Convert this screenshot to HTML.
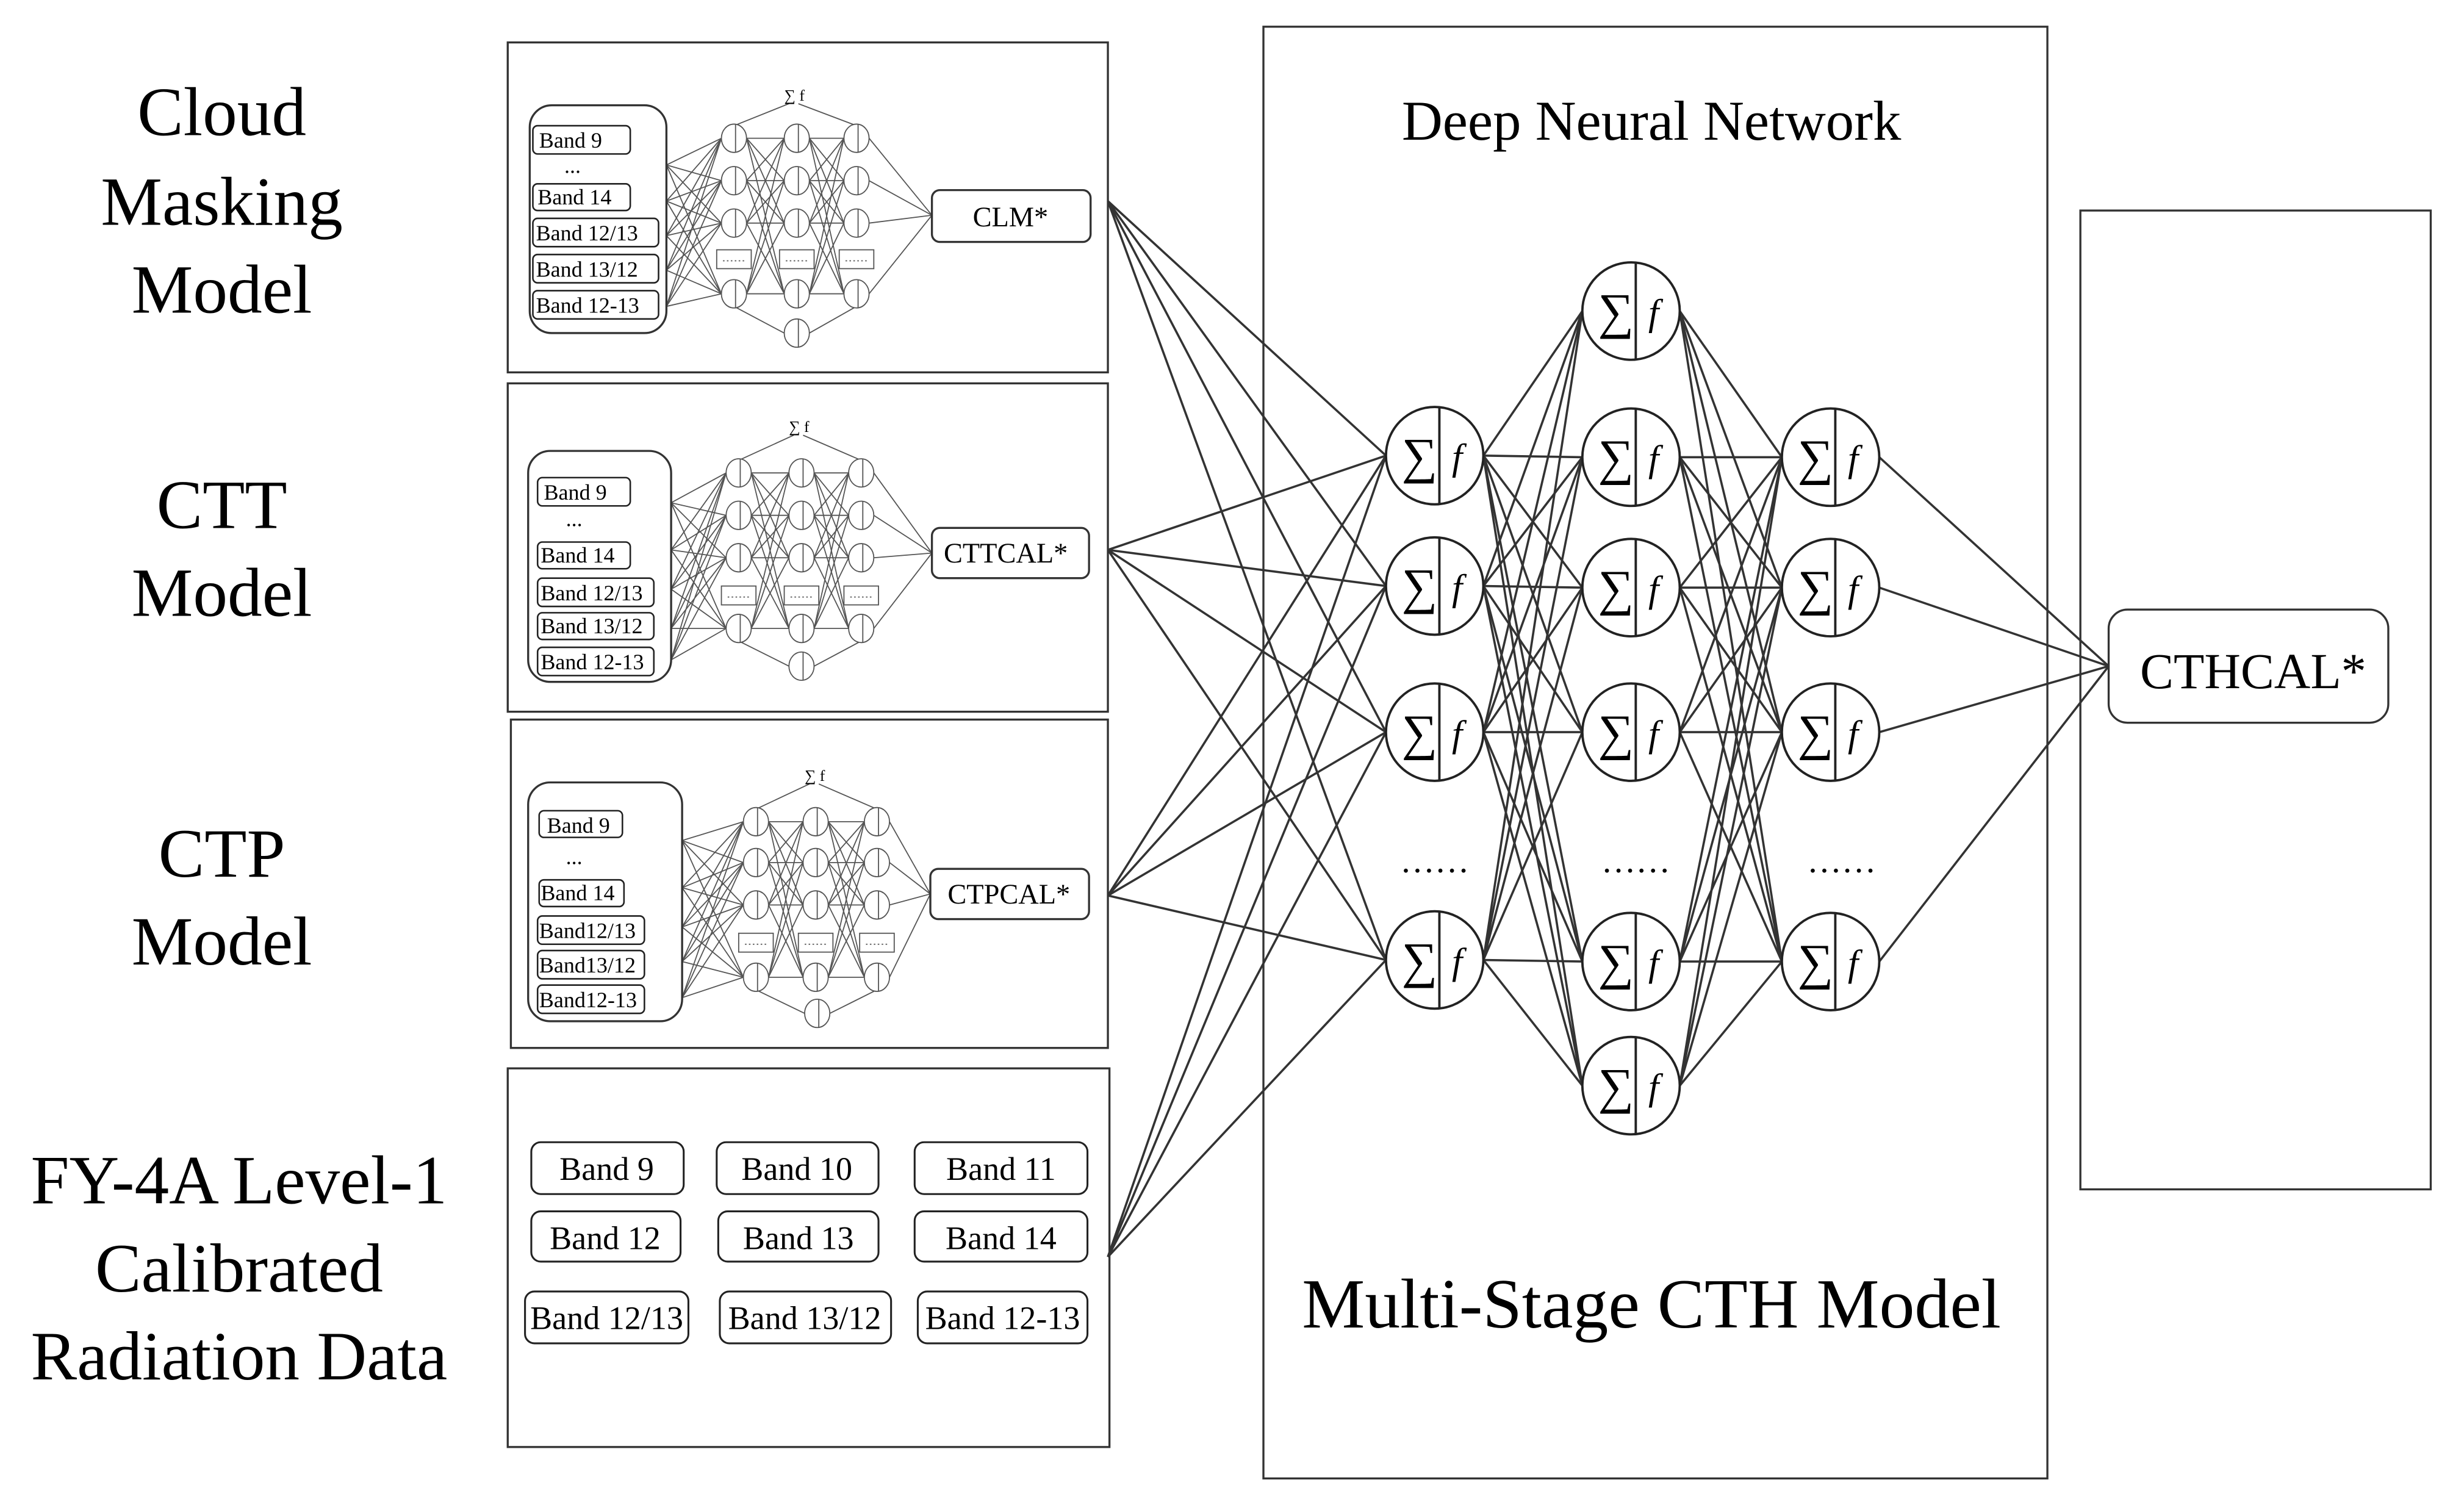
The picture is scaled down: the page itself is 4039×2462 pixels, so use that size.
<!DOCTYPE html>
<html><head><meta charset="utf-8"><style>
html,body{margin:0;padding:0;background:#fff}
svg{display:block}
svg text{font-family:"Liberation Serif","Times New Roman",serif;fill:#000}
</style></head><body>
<svg id="s" width="4039" height="2462" viewBox="0 0 1568 956" xmlns="http://www.w3.org/2000/svg" font-family="Liberation Serif, serif">
<rect width="1568" height="956" fill="#fff"/>
<g id="lines" stroke="#333" stroke-width="1.4" fill="none"></g>
<g id="small" stroke="#555" stroke-width="0.7" fill="none"></g>
<g fill="none" stroke="#333" stroke-width="1.3">
<rect x="323" y="27" width="382" height="210"/>
<rect x="323" y="244" width="382" height="209"/>
<rect x="325" y="458" width="380" height="209"/>
<rect x="323" y="680" width="383" height="241"/>
<rect x="804" y="17" width="499" height="924"/>
<rect x="1324" y="134" width="223" height="623"/>
<rect x="1342" y="388" width="178" height="72" rx="12" fill="#fff"/>
<rect x="337" y="67" width="87" height="145" rx="14"/>
<rect x="336" y="287" width="91" height="147" rx="14"/>
<rect x="336" y="498" width="98" height="152" rx="14"/>
<rect x="593" y="121" width="101" height="33" rx="5" fill="#fff"/>
<rect x="593" y="336" width="100" height="32" rx="5" fill="#fff"/>
<rect x="592" y="553" width="101" height="32" rx="5" fill="#fff"/>
</g>
<g fill="#fff" stroke="#222" stroke-width="1">
<rect x="339" y="80" width="62" height="18" rx="3"/><rect x="339" y="117" width="62" height="17" rx="3"/>
<rect x="339" y="139" width="80" height="18" rx="3"/><rect x="339" y="162" width="80" height="18" rx="3"/><rect x="339" y="185" width="80" height="18" rx="3"/>
<rect x="342" y="304" width="59" height="18" rx="3"/><rect x="342" y="345" width="59" height="17" rx="3"/>
<rect x="342" y="368" width="74" height="18" rx="3"/><rect x="342" y="390" width="74" height="17" rx="3"/><rect x="342" y="412" width="74" height="18" rx="3"/>
<rect x="343" y="516" width="53" height="17" rx="3"/><rect x="343" y="560" width="54" height="17" rx="3"/>
<rect x="342" y="583" width="68" height="18" rx="3"/><rect x="342" y="605" width="68" height="18" rx="3"/><rect x="342" y="627" width="68" height="18" rx="3"/>
</g>
<g fill="#fff" stroke="#222" stroke-width="1.2">
<rect x="338" y="727" width="97" height="33" rx="6"/><rect x="456" y="727" width="103" height="33" rx="6"/><rect x="582" y="727" width="110" height="33" rx="6"/>
<rect x="338" y="771" width="95" height="32" rx="6"/><rect x="457" y="771" width="102" height="32" rx="6"/><rect x="582" y="771" width="110" height="32" rx="6"/>
<rect x="334" y="822" width="104" height="33" rx="6"/><rect x="458" y="822" width="109" height="33" rx="6"/><rect x="584" y="822" width="108" height="33" rx="6"/>
</g>
<g id="big" stroke="#222" stroke-width="1.5" fill="#fff"></g>
<g font-size="44" text-anchor="middle">
<text x="141" y="86">Cloud</text><text x="141" y="143">Masking</text><text x="141" y="199">Model</text>
<text x="141" y="336">CTT</text><text x="141" y="392">Model</text>
<text x="141" y="558">CTP</text><text x="141" y="614">Model</text>
<text x="152" y="766">FY-4A Level-1</text><text x="152" y="822">Calibrated</text><text x="152" y="878">Radiation Data</text>
</g>
<text x="1051" y="89" font-size="36" text-anchor="middle">Deep Neural Network</text>
<text x="1051" y="845" font-size="45" text-anchor="middle">Multi-Stage CTH Model</text>
<text x="1434" y="438" font-size="32" text-anchor="middle">CTHCAL*</text>
<g font-size="18" text-anchor="middle">
<text x="643" y="144">CLM*</text><text x="640" y="358">CTTCAL*</text><text x="642" y="575">CTPCAL*</text>
</g>
<g font-size="14">
<text x="343" y="94">Band 9</text><text x="359" y="110">...</text><text x="342" y="130">Band 14</text><text x="341" y="153">Band 12/13</text><text x="341" y="176">Band 13/12</text><text x="341" y="199">Band 12-13</text>
<text x="346" y="318">Band 9</text><text x="360" y="335">...</text><text x="344" y="358">Band 14</text><text x="344" y="382">Band 12/13</text><text x="344" y="403">Band 13/12</text><text x="344" y="426">Band 12-13</text>
<text x="348" y="530">Band 9</text><text x="360" y="550">...</text><text x="344" y="573">Band 14</text><text x="343" y="597">Band12/13</text><text x="343" y="619">Band13/12</text><text x="343" y="641">Band12-13</text>
</g>
<g font-size="21" text-anchor="middle">
<text x="386" y="751">Band 9</text><text x="507" y="751">Band 10</text><text x="637" y="751">Band 11</text>
<text x="385" y="795">Band 12</text><text x="508" y="795">Band 13</text><text x="637" y="795">Band 14</text>
<text x="386" y="846">Band 12/13</text><text x="512" y="846">Band 13/12</text><text x="638" y="846">Band 12-13</text>
</g>
<g font-size="22" text-anchor="middle">
<text x="913" y="555">……</text><text x="1041" y="555">……</text><text x="1172" y="555">……</text>
</g>
<g font-size="32">
<text x="892" y="301">∑</text><text x="924" y="299" font-size="24" font-style="italic">f</text>
<text x="892" y="384">∑</text><text x="924" y="382" font-size="24" font-style="italic">f</text>
<text x="892" y="477">∑</text><text x="924" y="475" font-size="24" font-style="italic">f</text>
<text x="892" y="622">∑</text><text x="924" y="620" font-size="24" font-style="italic">f</text>
<text x="1017" y="209">∑</text><text x="1049" y="207" font-size="24" font-style="italic">f</text>
<text x="1017" y="302">∑</text><text x="1049" y="300" font-size="24" font-style="italic">f</text>
<text x="1017" y="385">∑</text><text x="1049" y="383" font-size="24" font-style="italic">f</text>
<text x="1017" y="477">∑</text><text x="1049" y="475" font-size="24" font-style="italic">f</text>
<text x="1017" y="623">∑</text><text x="1049" y="621" font-size="24" font-style="italic">f</text>
<text x="1017" y="702">∑</text><text x="1049" y="700" font-size="24" font-style="italic">f</text>
<text x="1144" y="302">∑</text><text x="1176" y="300" font-size="24" font-style="italic">f</text>
<text x="1144" y="385">∑</text><text x="1176" y="383" font-size="24" font-style="italic">f</text>
<text x="1144" y="477">∑</text><text x="1176" y="475" font-size="24" font-style="italic">f</text>
<text x="1144" y="623">∑</text><text x="1176" y="621" font-size="24" font-style="italic">f</text>
<text x="499" y="64" font-size="10">∑ f</text><text x="502" y="275" font-size="10">∑ f</text><text x="512" y="497" font-size="10">∑ f</text>
</g>
</svg>
<script>
var NS="http://www.w3.org/2000/svg";
function el(p,t,a){var e=document.createElementNS(NS,t);for(var k in a)e.setAttribute(k,a[k]);document.getElementById(p).appendChild(e);return e;}
function ln(p,x1,y1,x2,y2){el(p,"line",{x1:x1,y1:y1,x2:x2,y2:y2});}
var R=31;
var c1=[290,373,466,611],c2=[198,291,374,466,612,691],c3=[291,374,466,612];
var X1=913,X2=1038,X3=1165;
[128,350,570,800].forEach(function(sy){c1.forEach(function(y){ln("lines",705,sy,X1-R,y);});});
c1.forEach(function(a){c2.forEach(function(b){ln("lines",X1+R,a,X2-R,b);});});
c2.forEach(function(a){c3.forEach(function(b){ln("lines",X2+R,a,X3-R,b);});});
c3.forEach(function(a){ln("lines",X3+R,a,1342,424);});
function neuron(x,y){el("big","ellipse",{cx:x,cy:y,rx:R,ry:R});ln("big",x+3,y-R,x+3,y+R);}
c1.forEach(function(y){neuron(X1,y);});c2.forEach(function(y){neuron(X2,y);});c3.forEach(function(y){neuron(X3,y);});
function small(cols,rows,bot,top,inX,inYs,out){
  var r=8;
  inYs.forEach(function(a){[rows[0],rows[1],rows[2],rows[4]].forEach(function(b){ln("small",inX,a,cols[0]-r,b);});});
  var live=[rows[0],rows[1],rows[2],rows[4]];
  for(var c=0;c<2;c++){live.forEach(function(a){live.forEach(function(b){ln("small",cols[c]+r,a,cols[c+1]-r,b);});});}
  ln("small",cols[0],live[0]-r,top[0]-3,top[1]+6);ln("small",cols[2],live[0]-r,top[0]+3,top[1]+6);
  ln("small",cols[0],live[3]+r,bot[0]-r,bot[1]);ln("small",cols[2],live[3]+r,bot[0]+r,bot[1]);
  live.forEach(function(a){ln("small",cols[2]+r,a,out[0],out[1]);});
  cols.forEach(function(x){
    live.forEach(function(y){el("small","ellipse",{cx:x,cy:y,rx:r,ry:9,fill:"#fff"});ln("small",x+1,y-9,x+1,y+9);});
    el("small","rect",{x:x-11,y:rows[3]-6,width:22,height:12,fill:"#fff"});
    el("small","line",{x1:x-7,y1:rows[3]+1,x2:x+7,y2:rows[3]+1,"stroke-dasharray":"1 1.5"});
  });
  el("small","ellipse",{cx:bot[0],cy:bot[1],rx:r,ry:9,fill:"#fff"});ln("small",bot[0]+1,bot[1]-9,bot[0]+1,bot[1]+9);
}
small([467,507,545],[88,115,142,165,187],[507,212],[505,60],424,[105,128,150,172,195],[593,137]);
small([470,510,548],[301,328,355,379,400],[510,424],[508,271],427,[320,350,375,400,420],[593,352]);
small([481,519,558],[523,549,576,600,622],[520,645],[518,493],434,[535,565,590,612,635],[592,569]);
</script>
</body></html>
